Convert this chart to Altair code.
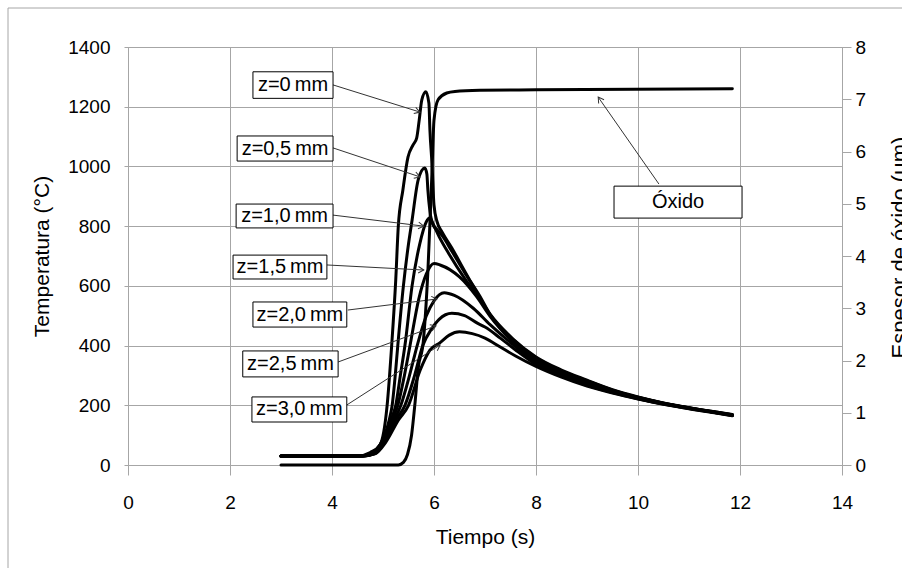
import math
import altair as alt
import pandas as pd

# ---------------- data ----------------
t_z00 = [3.0, 4.5, 4.75, 4.94, 5.08, 5.17, 5.25, 5.30, 5.39, 5.49, 5.59, 5.66, 5.71, 5.76, 5.84, 5.90, 5.92, 5.96, 6.00, 6.06, 6.16, 6.35, 6.60, 7.10, 7.55, 8.0, 8.5, 9.0, 9.5, 10.0, 10.5, 11.0, 11.5, 11.85]
T_z00 = [30, 30, 42, 67, 198, 400, 620, 800, 921, 1031, 1072, 1095, 1155, 1222, 1250, 1212, 1122, 1011, 870, 815, 780, 727, 650, 505, 422, 362, 318, 284, 252, 228, 208, 192, 178, 169]

t_z05 = [3.0, 4.55, 4.76, 4.95, 5.12, 5.18, 5.24, 5.29, 5.40, 5.50, 5.57, 5.69, 5.82, 5.86, 5.88, 5.92, 5.98, 6.06, 6.16, 6.35, 6.60, 6.90, 7.10, 7.55, 8.0, 8.5, 9.0, 9.5, 10.0, 10.5, 11.0, 11.5, 11.85]
T_z05 = [30, 30, 40, 70, 150, 200, 300, 400, 600, 740, 820, 955, 995, 975, 921, 850, 805, 788, 768, 716, 645, 565, 504, 420, 359, 315, 282, 251, 227, 207, 192, 178, 168]

t_z10 = [3.0, 4.6, 4.78, 4.96, 5.15, 5.25, 5.34, 5.43, 5.57, 5.72, 5.85, 5.92, 5.98, 6.10, 6.30, 6.60, 6.90, 7.10, 7.55, 8.0, 8.5, 9.0, 9.5, 10.0, 10.5, 11.0, 11.5, 11.85]
T_z10 = [30, 30, 39, 72, 150, 200, 300, 400, 600, 740, 815, 827, 808, 765, 705, 625, 555, 502, 417, 355, 312, 279, 250, 226, 207, 191, 177, 168]

t_z15 = [3.0, 4.6, 4.80, 4.98, 5.18, 5.29, 5.42, 5.53, 5.70, 5.85, 6.00, 6.12, 6.50, 6.84, 7.10, 7.55, 8.0, 8.5, 9.0, 9.5, 10.0, 10.5, 11.0, 11.5, 11.85]
T_z15 = [30, 30, 38, 75, 150, 200, 300, 400, 555, 640, 675, 670, 630, 563, 498, 412, 349, 306, 274, 248, 225, 206, 191, 177, 167]

t_z20 = [3.0, 4.6, 4.83, 5.00, 5.22, 5.35, 5.52, 5.67, 5.85, 6.00, 6.20, 6.40, 6.77, 7.10, 7.55, 8.0, 8.5, 9.0, 9.5, 10.0, 10.5, 11.0, 11.5, 11.85]
T_z20 = [30, 30, 38, 75, 150, 200, 300, 400, 500, 550, 577, 568, 525, 470, 403, 343, 302, 270, 245, 223, 205, 190, 176, 166]

t_z25 = [3.0, 4.6, 4.85, 5.02, 5.25, 5.43, 5.62, 5.78, 5.95, 6.10, 6.35, 6.60, 6.85, 7.00, 7.30, 7.60, 8.0, 8.5, 9.0, 9.5, 10.0, 10.5, 11.0, 11.5, 11.85]
T_z25 = [30, 30, 38, 75, 150, 200, 300, 400, 455, 488, 508, 500, 475, 462, 425, 385, 337, 298, 267, 243, 222, 204, 189, 176, 166]

t_z30 = [3.0, 4.6, 4.85, 5.05, 5.30, 5.50, 5.73, 5.92, 6.12, 6.30, 6.50, 6.75, 7.00, 7.30, 7.60, 8.0, 8.5, 9.0, 9.5, 10.0, 10.5, 11.0, 11.5, 11.85]
T_z30 = [30, 30, 38, 75, 150, 200, 318, 385, 410, 435, 446, 440, 425, 395, 365, 330, 294, 264, 241, 221, 203, 188, 175, 165]

t_oxide = [3.0, 5.30, 5.40, 5.48, 5.56, 5.63, 5.69, 5.79, 5.88, 5.96, 6.00, 6.08, 6.25, 6.41, 6.90, 8.0, 11.85]
oxide_um = [0, 0, 0.05, 0.2, 0.57, 1.21, 1.85, 2.36, 3.7, 5.6, 6.6, 6.99, 7.12, 7.15, 7.17, 7.18, 7.2]

curve_names = ["z=0mm", "z=0,5mm", "z=1,0mm", "z=1,5mm", "z=2,0mm", "z=2,5mm", "z=3,0mm"]
curve_t = [t_z00, t_z05, t_z10, t_z15, t_z20, t_z25, t_z30]
curve_T = [T_z00, T_z05, T_z10, T_z15, T_z20, T_z25, T_z30]

# annotation labels (text) and their placement (data units, temperature scale)
ann_text = ["z=0\u2009mm", "z=0,5\u2009mm", "z=1,0\u2009mm", "z=1,5\u2009mm", "z=2,0\u2009mm", "z=2,5\u2009mm", "z=3,0\u2009mm", "Óxido"]
box_t1 = [2.45, 2.14, 2.12, 2.06, 2.45, 2.25, 2.43, 9.53]
box_t2 = [4.02, 4.02, 4.02, 3.90, 4.29, 4.12, 4.29, 12.04]
box_T1 = [1228, 1018, 794, 623, 462, 295, 144, 827]
box_T2 = [1317, 1102, 874, 703, 546, 382, 228, 934]
arr_t0 = [4.02, 4.02, 4.02, 3.90, 4.31, 4.12, 4.29, 10.41]
arr_T0 = [1273, 1062, 837, 670, 519, 345, 201, 941]
arr_t1 = [5.725, 5.725, 5.80, 5.80, 6.06, 6.04, 6.12, 9.22]
arr_T1 = [1182, 965, 800, 653, 556, 466, 402, 1232]

# ---------------- geometry / style ----------------
W, H = 714, 418
X_MAX, Y_MAX = 14, 1400
GRID = "#a6a6a6"
FONT = "Liberation Sans"

rows = []
for name, ts, Ts in zip(curve_names, curve_t, curve_T):
    for t, T in zip(ts, Ts):
        rows.append({"curve": name, "t": t, "T": T})
temp_df = pd.DataFrame(rows)
ox_df = pd.DataFrame({"t": t_oxide, "ox": oxide_um})

ang = []
for a0, b0, a1, b1 in zip(arr_t0, arr_T0, arr_t1, arr_T1):
    dx = (a1 - a0) * W / X_MAX
    dy = -(b1 - b0) * H / Y_MAX
    ang.append(math.degrees(math.atan2(dx, -dy)) % 360)

ann_df = pd.DataFrame({
    "label": ann_text,
    "x1": box_t1, "x2": box_t2, "y1": box_T1, "y2": box_T2,
    "xm": [(a + b) / 2 for a, b in zip(box_t1, box_t2)],
    "ym": [(a + b) / 2 for a, b in zip(box_T1, box_T2)],
    "ax0": arr_t0, "ay0": arr_T0, "ax1": arr_t1, "ay1": arr_T1,
    "ang": ang,
})

x_scale = alt.Scale(domain=[0, X_MAX], nice=False, zero=False)
y_scale = alt.Scale(domain=[0, Y_MAX], nice=False)

x_axis = alt.Axis(
    values=list(range(0, 15, 2)), title="Tiempo (s)", grid=True, format="d",
    gridColor=GRID, domainColor=GRID, tickColor=GRID, tickSize=10,
    labelPadding=18, labelFontSize=19, labelFlush=False,
    titleFontSize=21, titleX=W / 2, titleY=78, titleBaseline="alphabetic",
    titleAlign="center",
)
y_axis = alt.Axis(
    values=list(range(0, 1401, 200)), title="Temperatura (°C)", grid=True, format="d",
    gridColor=GRID, domainColor=GRID, tickColor=GRID, tickSize=4,
    labelPadding=14, labelFontSize=19, titleFontSize=21, titleAngle=270,
    titleX=-80, titleY=H / 2, titleBaseline="alphabetic", titleAlign="center",
)

X = lambda f: alt.X(f, type="quantitative", scale=x_scale, axis=x_axis)
Y = lambda f: alt.Y(f, type="quantitative", scale=y_scale, axis=y_axis)

frame = alt.Chart(pd.DataFrame({"k": [0]})).mark_rect(
    fill=None, stroke=GRID, strokeWidth=1
).encode(x=alt.value(-120), x2=alt.value(W + 400), y=alt.value(-39), y2=alt.value(H + 400))

temp_lines = alt.Chart(temp_df).mark_line(
    color="black", strokeWidth=3, interpolate="monotone", strokeCap="round", strokeJoin="round"
).encode(x=X("t"), y=Y("T"), detail="curve:N")

boxes = alt.Chart(ann_df).mark_rect(fill="white", stroke="black", strokeWidth=1).encode(
    x=X("x1"), x2="x2", y=Y("y1"), y2="y2"
)
texts = alt.Chart(ann_df).mark_text(font=FONT, fontSize=20, color="black", baseline="middle", align="center").encode(
    x=X("xm"), y=Y("ym"), text="label:N"
)
arrows = alt.Chart(ann_df).mark_rule(color="#333333", strokeWidth=1).encode(
    x=X("ax0"), y=Y("ay0"), x2="ax1", y2="ay1"
)
heads = alt.Chart(ann_df).mark_point(
    shape="M-0.6,1L0,0L0.6,1", filled=False, size=120, stroke="#333333", strokeWidth=1, opacity=1
).encode(x=X("ax1"), y=Y("ay1"), angle=alt.Angle("ang:Q", scale=None))

temp_layer = alt.layer(frame, temp_lines, arrows, boxes, texts, heads)

oxide_line = alt.Chart(ox_df).mark_line(
    color="black", strokeWidth=3, interpolate="monotone", strokeCap="round", strokeJoin="round"
).encode(
    x=X("t"),
    y=alt.Y("ox:Q", scale=alt.Scale(domain=[0, 8], nice=False),
            axis=alt.Axis(orient="right", values=list(range(9)), grid=False, format="d",
                          title="Espesor de óxido (μm)", domainColor=GRID, tickColor=GRID,
                          tickSize=9, labelPadding=4, labelFontSize=19, titleFontSize=22,
                          titleAngle=270, titleX=64, titleY=200, titleBaseline="alphabetic",
                          titleAlign="center")),
)

chart = alt.layer(temp_layer, oxide_line).resolve_scale(y="independent").properties(
    width=W, height=H,
    padding={"left": 128, "top": 47, "right": 60, "bottom": 103},
    autosize=alt.AutoSizeParams(type="none"),
    background="white",
).configure_view(stroke=GRID).configure_axis(
    labelFont=FONT, titleFont=FONT, labelColor="black", titleColor="black",
    titleFontWeight="normal",
)

chart.save("out.html", embed_options={"renderer": "svg", "actions": False})
